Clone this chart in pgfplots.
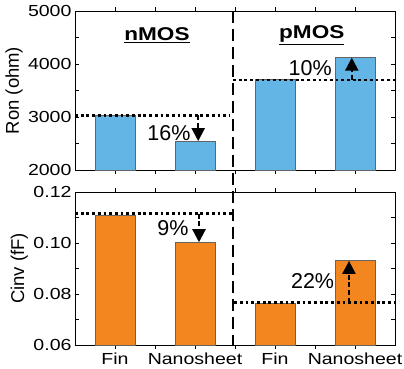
\documentclass[border=0pt]{standalone}
\usepackage{pgfplots}
\pgfplotsset{compat=1.18}
\usepackage{fontspec}
\setmainfont{Liberation Sans}
\newfontfamily\sfx{Liberation Sans}[FakeStretch=1.22]
\usetikzlibrary{arrows.meta}
\definecolor{barblue}{RGB}{99,181,229}
\definecolor{barorange}{RGB}{244,134,31}
\definecolor{baredge}{RGB}{100,100,100}
\tikzset{
 dotl/.style={line width=2.4pt, dash pattern=on 2.8pt off 2.9pt},
 arr/.style={line width=2.2pt, dash pattern=on 5pt off 2.6pt, -{Triangle[width=13pt,length=13pt]}},
 pct/.style={font=\fontsize{21.5}{21.5}\selectfont},
}
\begin{document}
\begin{tikzpicture}
\useasboundingbox (0pt,0pt) rectangle (404pt,-368pt);
\pgfplotsset{
 panel/.style={
  width=320pt, scale only axis, xmin=-0.5, xmax=3.5,
  xtick={0,1,2,3}, minor xtick={0.5,1.5,2.5},
  tick align=inside, major tick length=4pt, minor tick length=4pt,
  axis line style={line width=0.8pt},
  every tick/.style={black, line width=0.8pt},
  tick label style={font=\sfx\fontsize{16}{16}\selectfont},
  ylabel style={font=\fontsize{18.5}{18.5}\selectfont, anchor=north},
  ybar, bar width=0.5, bar shift=0pt,
 },
}
% top panel
\begin{axis}[panel, at={(75pt,-170pt)}, anchor=south west, height=159pt,
  ymin=2000, ymax=5000, ytick={2000,3000,4000,5000},
  yticklabels={2000,3000,4000,5000}, minor y tick num=1,
  xticklabels={},
  ylabel={Ron (ohm)},
  ylabel style={at={(axis description cs:-0.228,0.5)}},
]
\addplot[fill=barblue, draw=baredge, line width=0.6pt] coordinates {(0,3030) (1,2540) (2,3710) (3,4125)};
\draw[dotl] (axis cs:-0.5,3030) -- (axis cs:1.44,3030);
\draw[dotl] (axis cs:1.475,3700) -- (axis cs:3.5,3700);
\draw[arr] (axis cs:1.04,3030) -- (axis cs:1.04,2545);
\draw[arr] (axis cs:2.96,3700) -- (axis cs:2.96,4120);
\node[pct] at (axis cs:0.675,2698) {16\%};
\node[pct] at (axis cs:2.44,3930) {10\%};
\node[font=\sfx\fontsize{18.5}{18.5}\selectfont] at (axis cs:0.525,4547) {\underline{\textbf{nMOS}}};
\node[font=\sfx\fontsize{18.5}{18.5}\selectfont] at (axis cs:2.46,4547) {\underline{\textbf{pMOS}}};
\coordinate (vt) at (axis cs:1.475,5000);
\end{axis}
% bottom panel
\begin{axis}[panel, at={(75pt,-345pt)}, anchor=south west, height=153pt,
  ymin=0.06, ymax=0.12, ytick={0.06,0.08,0.10,0.12},
  yticklabels={0.06,0.08,0.10,0.12}, minor y tick num=1,
  xticklabels={Fin,Nanosheet,Fin,Nanosheet},
  ylabel={Cinv (fF)},
  ylabel style={at={(axis description cs:-0.212,0.5)}},
]
\addplot[fill=barorange, draw=baredge, line width=0.6pt] coordinates {(0,0.111) (1,0.1002) (2,0.0764) (3,0.0932)};
\draw[dotl] (axis cs:-0.5,0.1115) -- (axis cs:1.46,0.1115);
\draw[dotl] (axis cs:1.49,0.0766) -- (axis cs:3.5,0.0766);
\draw[arr] (axis cs:1.05,0.1115) -- (axis cs:1.05,0.1003);
\draw[arr] (axis cs:2.925,0.0766) -- (axis cs:2.925,0.0930);
\node[pct] at (axis cs:0.725,0.1057) {9\%};
\node[pct] at (axis cs:2.47,0.0849) {22\%};
\coordinate (vb) at (axis cs:1.475,0.06);
\end{axis}
\draw[line width=2.8pt, dash pattern=on 12pt off 6pt] (vt) -- (vb);
\end{tikzpicture}
\end{document}
